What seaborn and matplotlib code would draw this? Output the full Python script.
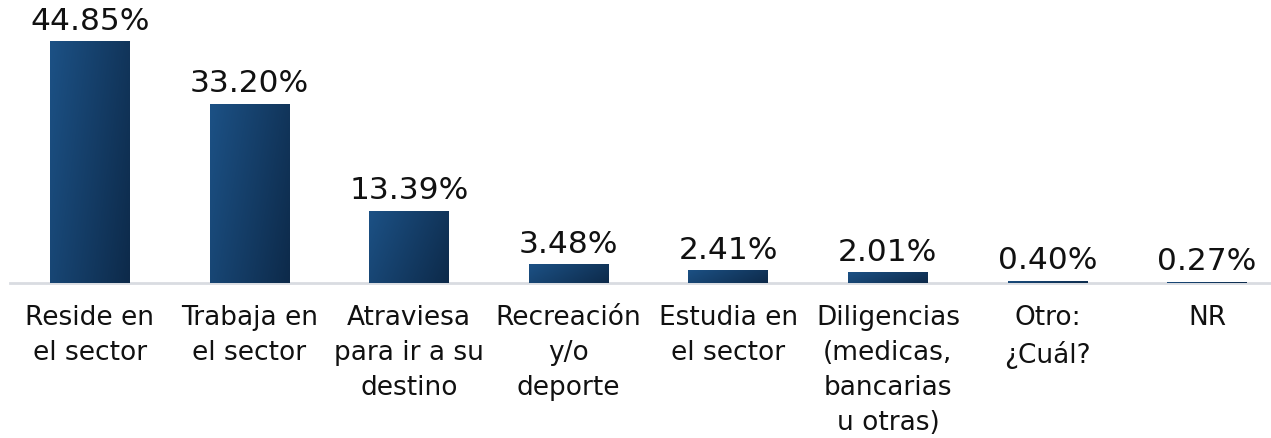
import matplotlib
matplotlib.use("Agg")
import matplotlib.pyplot as plt
import numpy as np
import pandas as pd
import seaborn as sns

categorias = ["Reside en\nel sector", "Trabaja en\nel sector", "Atraviesa\npara ir a su\ndestino",
              "Recreación\ny/o\ndeporte", "Estudia en\nel sector",
              "Diligencias\n(medicas,\nbancarias\nu otras)", "Otro:\n¿Cuál?", "NR"]
porcentajes = [44.85, 33.20, 13.39, 3.48, 2.41, 2.01, 0.40, 0.27]
etiquetas = ["44.85%", "33.20%", "13.39%", "3.48%", "2.41%", "2.01%", "0.40%", "0.27%"]

df = pd.DataFrame({"cat": categorias, "pct": porcentajes})

sns.set_style("white")
plt.rcParams["font.family"] = ["DejaVu Sans"]

fig = plt.figure(figsize=(12.71, 4.38), dpi=100)
ax = fig.add_axes([10 / 1271, 155 / 438, 1277 / 1271, 283 / 438])

sns.barplot(data=df, x="cat", y="pct", color="#17426b", width=0.5, ax=ax)

# gradiente en cada barra
grad = np.linspace(0, 1, 64)[None, :] + np.linspace(0, 0.4, 64)[:, None]
cmap = matplotlib.colors.LinearSegmentedColormap.from_list("g", ["#1c5185", "#0d2a4a"])
for p in ax.patches:
    x0, y0 = p.get_x(), p.get_y()
    w, h = p.get_width(), p.get_height()
    im = ax.imshow(grad, cmap=cmap, vmin=0, vmax=1.4, aspect="auto",
                   extent=[x0, x0 + w, y0, y0 + h], origin="upper", zorder=3)
    im.set_clip_path(p)

for i, t in enumerate(etiquetas):
    ax.text(i, porcentajes[i] + 1.0, t, ha="center", va="bottom", fontsize=22.5, color="#111111")

ax.set_xlim(-0.5, 7.5)
ax.set_ylim(0, 52.45)
ax.set_xlabel("")
ax.set_ylabel("")
ax.set_yticks([])
for s in ["top", "right", "left"]:
    ax.spines[s].set_visible(False)
ax.spines["bottom"].set_color("#d9dce1")
ax.spines["bottom"].set_linewidth(2)
ax.tick_params(axis="x", length=0, pad=16, labelsize=19, labelcolor="#111111")
for lbl in ax.get_xticklabels():
    lbl.set_linespacing(1.45)

fig.savefig("out.png", dpi=100)
